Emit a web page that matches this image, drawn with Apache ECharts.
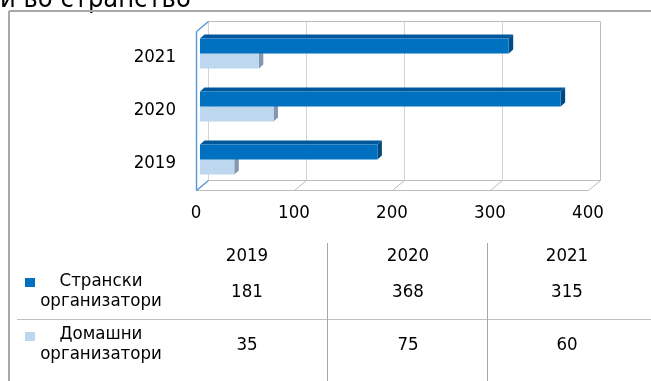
<!DOCTYPE html>
<html>
<head>
<meta charset="utf-8">
<script src="https://cdn.jsdelivr.net/npm/echarts@6/dist/echarts.min.js"></script>
<style>
html,body{margin:0;padding:0;background:#fff;}
#chart{width:651px;height:381px;}
</style>
</head>
<body>
<div id="chart"></div>
<script>
// ---- data ----
const categories = ['2019', '2020', '2021'];
const foreign = [181, 368, 315];
const domestic = [35, 75, 60];
const seriesNames = ['Странски\nорганизатори', 'Домашни\nорганизатори'];
const xTicks = [0, 100, 200, 300, 400];
const titleText = 'и во странство';

// ---- styles ----
const FONT = '"DejaVu Sans Condensed", "DejaVu Sans", sans-serif';
const COLORS = [
  { face: '#0070C0', top: '#00589c', side: '#004a84' },
  { face: '#BDD7EE', top: '#a6c1db', side: '#8497B0' }
];
const DX = 12, DY = -10;      // wall depth
const BDX = 4, BDY = -4;      // bar plane offset
const BD = [4.5, -4];         // bar depth
const BH = 15;                // bar face height

const chart = echarts.init(document.getElementById('chart'), null, { renderer: 'canvas' });

function px(v) { return Math.round(v) + 0.5; }

function frameItem(params, api) {
  const cs = params.coordSys;
  const v = api.value(0);
  const x = px(api.coord([v, 0])[0]);
  const top = px(cs.y), bot = px(cs.y + cs.height);
  const left = px(cs.x), right = px(cs.x + cs.width);
  const grid = '#d4d4d4', edge = '#bcbcbc', blue = '#5b9bd5';
  const L = (x1, y1, x2, y2, c, w) => ({ type: 'line', shape: { x1, y1, x2, y2 }, style: { stroke: c, lineWidth: w || 1 } });
  const children = [
    L(x + DX, top + DY, x + DX, bot + DY, v === xTicks[xTicks.length - 1] ? edge : grid),
    L(x + DX, bot + DY, x, bot, edge)
  ];
  if (params.dataIndex === 0) {
    children.push(L(left + DX, top + DY, right + DX, top + DY, edge));
    children.push(L(left + DX, bot + DY, right + DX, bot + DY, edge));
    children.push(L(left, bot, right, bot, edge));
    children.push(L(left, top, left, bot, blue, 1.5));
    children.push(L(left, top, left + DX, top + DY, blue, 1.5));
    children.push(L(left, bot, left + DX, bot + DY, blue, 1.5));
  }
  return { type: 'group', children };
}

function barRenderer(si) {
  return function (params, api) {
    const v = api.value(0), c = api.value(1);
    const p0 = api.coord([0, c]);
    const p1 = api.coord([v, c]);
    const yc = p0[1] + BDY;
    const x0 = p0[0] + BDX, x1 = p1[0] + BDX;
    const yt = si === 0 ? yc - BH : yc;
    const yb = yt + BH;
    const col = COLORS[si];
    return {
      type: 'group',
      children: [
        { type: 'polygon', shape: { points: [[x0, yt], [x0 + BD[0], yt + BD[1]], [x1 + BD[0], yt + BD[1]], [x1, yt]] }, style: { fill: col.top } },
        { type: 'polygon', shape: { points: [[x1, yt], [x1 + BD[0], yt + BD[1]], [x1 + BD[0], yb + BD[1]], [x1, yb]] }, style: { fill: col.side } },
        { type: 'rect', shape: { x: x0, y: yt, width: x1 - x0, height: BH }, style: { fill: col.face } }
      ]
    };
  };
}

// ---- table graphics ----
const colX = [247, 408, 567];
const rowY = [292.5, 345];
const graphics = [];
const txt = (text, x, y, extra) => Object.assign({
  type: 'text', silent: true,
  style: Object.assign({ text, x, y, align: 'center', verticalAlign: 'middle', fill: '#000', font: '18.5px ' + FONT }, extra || {})
});
graphics.push(txt(titleText, 0, 13, { align: 'left', verticalAlign: 'bottom', font: '27px ' + FONT }));
// outer frame
graphics.push({ type: 'line', silent: true, shape: { x1: 9, y1: 11, x2: 651, y2: 11 }, style: { stroke: '#a8a8a8', lineWidth: 2 } });
graphics.push({ type: 'line', silent: true, shape: { x1: 9, y1: 11, x2: 9, y2: 381 }, style: { stroke: '#a8a8a8', lineWidth: 2 } });
// table lines
graphics.push({ type: 'line', silent: true, shape: { x1: 17, y1: 319.5, x2: 651, y2: 319.5 }, style: { stroke: '#c0c0c0', lineWidth: 1 } });
[327.5, 487.5].forEach(x => graphics.push({ type: 'line', silent: true, shape: { x1: x, y1: 243, x2: x, y2: 381 }, style: { stroke: '#a6a6a6', lineWidth: 1 } }));
categories.forEach((c, i) => graphics.push(txt(c, colX[i], 256)));
const tableSeries = [foreign, domestic];
tableSeries.forEach((vals, r) => {
  graphics.push({ type: 'rect', silent: true, shape: { x: 25, y: r === 0 ? 278 : 332, width: 10, height: 9 }, style: { fill: COLORS[r].face } });
  graphics.push(txt(seriesNames[r], 101, rowY[r] - 1, { lineHeight: 20 }));
  vals.forEach((v, i) => graphics.push(txt(String(v), colX[i], rowY[r])));
});

const option = {
  backgroundColor: '#ffffff',
  animation: false,
  grid: { left: 196, right: 63, top: 31, bottom: 191, containLabel: false },
  xAxis: {
    type: 'value', min: 0, max: 400, interval: 100,
    axisLine: { show: false }, axisTick: { show: false }, splitLine: { show: false },
    axisLabel: { margin: 14, fontSize: 18.5, fontFamily: FONT, color: '#000' }
  },
  yAxis: {
    type: 'category', data: categories,
    axisLine: { show: false }, axisTick: { show: false }, splitLine: { show: false },
    axisLabel: { margin: 20, fontSize: 18.5, fontFamily: FONT, color: '#000' }
  },
  series: [
    { type: 'custom', name: 'frame', silent: true, z: 1, renderItem: frameItem, data: xTicks.map(v => [v, 0]), encode: { x: 0, y: 1 } },
    { type: 'custom', name: seriesNames[1], z: 2, renderItem: barRenderer(1), data: domestic.map((v, i) => [v, i]), encode: { x: 0, y: 1 } },
    { type: 'custom', name: seriesNames[0], z: 3, renderItem: barRenderer(0), data: foreign.map((v, i) => [v, i]), encode: { x: 0, y: 1 } }
  ],
  graphic: graphics
};
chart.setOption(option);
</script>
</body>
</html>
